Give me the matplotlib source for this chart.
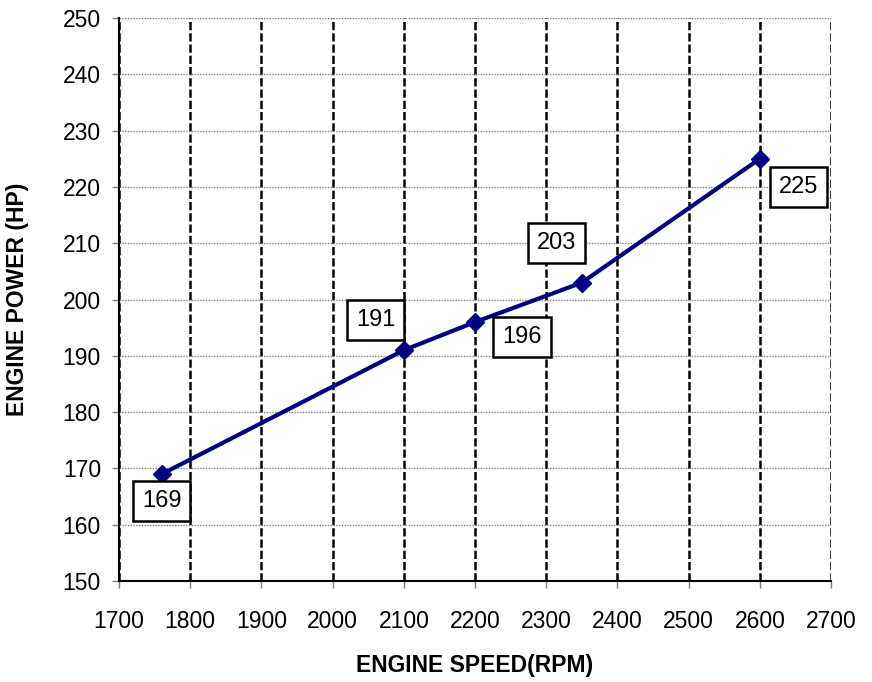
import matplotlib.pyplot as plt
import numpy as np

plt.rcParams['font.family'] = ['Liberation Sans', 'DejaVu Sans']

# 数据
engine_speed = [1760, 2100, 2200, 2350, 2600]
engine_power = [169, 191, 196, 203, 225]
point_labels = ['169', '191', '196', '203', '225']
# 标注框偏移（像素）
label_offsets = [(0, -27), (-28, 30), (47, -15), (-25, 40), (39, -28)]

x_ticks = np.arange(1700, 2701, 100)
y_ticks = np.arange(150, 251, 10)

fig = plt.figure(figsize=(8.72, 6.82), dpi=100)
ax = fig.add_axes([0.1365, 0.148, 0.8165, 0.8256])

ax.plot(engine_speed, engine_power, color='#000080', linewidth=3,
        marker='D', markersize=9.5, zorder=3)

for x, y, txt, off in zip(engine_speed, engine_power, point_labels, label_offsets):
    ax.annotate(txt, (x, y), xytext=off, textcoords='offset pixels',
                ha='center', va='center', fontsize=17,
                bbox=dict(boxstyle='square,pad=0.38', facecolor='white',
                          edgecolor='black', linewidth=1.8), zorder=4)

ax.set_xlim(1700, 2700)
ax.set_ylim(150, 250)
ax.set_xticks(x_ticks)
ax.set_yticks(y_ticks)

# 网格线
ax.grid(axis='x', color='black', linestyle=(0, (3.3, 1.2)), linewidth=1.8)
ax.grid(axis='y', color='#808080', linestyle=(0, (1, 1)), linewidth=1.0)
ax.set_axisbelow(True)

ax.spines['top'].set_visible(False)
ax.spines['right'].set_visible(False)
ax.spines['left'].set_linewidth(1.5)
ax.spines['bottom'].set_linewidth(1.5)
ax.tick_params(direction='out', length=5, width=1.0, color='#808080',
               labelsize=16.5)
ax.tick_params(axis='x', pad=16)
ax.tick_params(axis='y', pad=8)

ax.set_xlabel('ENGINE SPEED(RPM)', fontsize=16.5, fontweight='bold', labelpad=15)
ax.set_ylabel('ENGINE POWER (HP)', fontsize=16.5, fontweight='bold', labelpad=24)

plt.savefig('out.png', dpi=100)
